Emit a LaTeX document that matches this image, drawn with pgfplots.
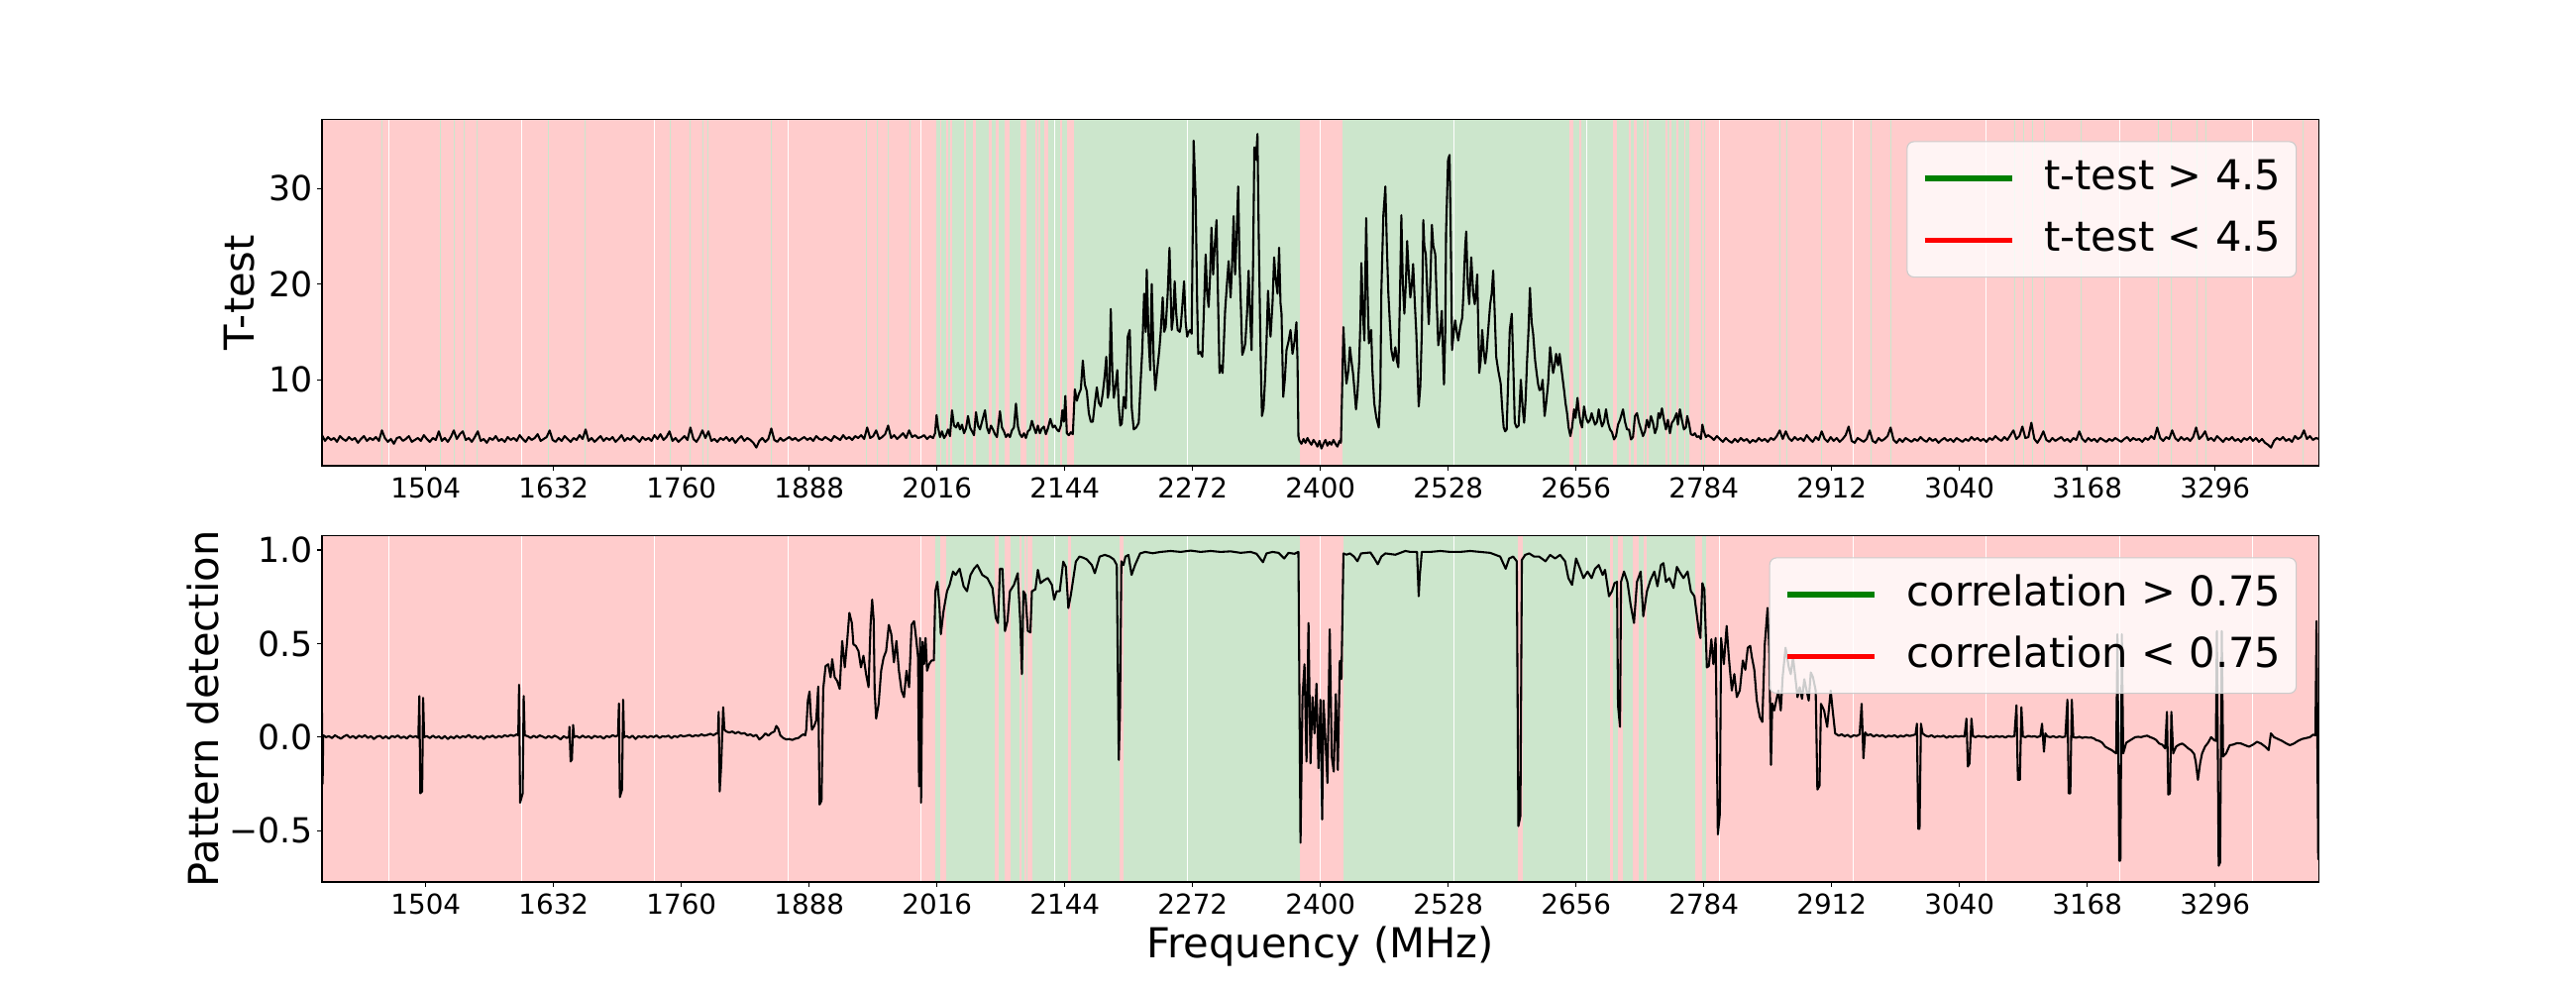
\documentclass[border=0pt]{standalone}
\usepackage{pgfplots}
\usepackage{pgfplotstable}
\pgfplotsset{compat=1.18}
\usepackage{fontspec}
\setmainfont{DejaVu Sans}
\definecolor{bandred}{RGB}{255,204,204}
\definecolor{bandgreen}{RGB}{204,230,204}
\definecolor{mplgreen}{RGB}{0,128,0}
\definecolor{mplred}{RGB}{255,0,0}

\pgfplotstableread{
x y
1400 4.2
1403 3.6
1406 4.0
1409 3.7
1412 3.9
1415 3.5
1418 4.1
1421 3.8
1424 3.6
1427 4.0
1430 3.7
1433 3.9
1436 3.4
1439 3.8
1442 4.1
1445 3.6
1448 3.9
1451 3.7
1454 4.0
1457 3.6
1460 4.7
1463 3.9
1466 3.5
1469 3.8
1472 3.3
1475 3.9
1478 4.0
1481 3.6
1484 3.8
1487 4.1
1490 3.5
1493 3.7
1496 3.9
1499 3.6
1502 4.2
1505 3.8
1508 3.5
1511 3.9
1514 3.7
1517 4.6
1520 3.6
1523 3.9
1526 3.5
1529 4.0
1532 4.7
1535 3.8
1538 4.3
1541 4.6
1544 3.7
1547 3.9
1550 3.5
1553 4.0
1556 4.6
1559 3.6
1562 3.8
1565 3.4
1568 3.9
1571 3.7
1574 4.1
1577 3.6
1580 3.8
1583 3.5
1586 4.0
1589 3.7
1592 3.9
1595 3.6
1598 4.2
1601 3.8
1604 3.5
1607 4.0
1610 3.7
1613 3.9
1616 4.3
1619 3.6
1622 3.8
1625 4.0
1628 4.7
1631 3.7
1634 3.5
1637 3.9
1640 3.6
1643 4.1
1646 3.8
1649 3.5
1652 3.9
1655 3.7
1658 4.2
1661 3.8
1664 4.8
1667 3.6
1670 3.9
1673 3.5
1676 3.8
1679 4.1
1682 3.6
1685 3.9
1688 3.7
1691 4.0
1694 3.5
1697 3.8
1700 4.2
1703 3.6
1706 3.9
1709 3.7
1712 4.1
1715 3.8
1718 3.5
1721 4.0
1724 3.7
1727 3.9
1730 3.6
1733 4.2
1736 3.8
1739 4.3
1742 3.7
1745 4.0
1748 4.6
1751 3.6
1754 3.9
1757 3.5
1760 3.8
1763 4.1
1766 3.7
1769 5.0
1772 3.8
1775 3.5
1778 4.0
1781 4.7
1784 3.9
1787 4.6
1790 3.6
1793 3.8
1796 3.5
1799 3.9
1802 3.7
1805 4.0
1808 3.6
1811 3.9
1814 3.4
1817 3.8
1820 4.1
1823 3.6
1826 3.9
1829 3.7
1832 3.4
1835 2.9
1838 3.6
1841 3.9
1844 3.5
1847 3.8
1850 4.9
1853 3.7
1856 3.5
1859 3.9
1862 3.6
1865 3.8
1868 4.0
1871 3.7
1874 3.9
1877 3.6
1880 3.8
1883 4.0
1886 3.7
1889 3.9
1892 3.6
1895 4.1
1898 3.8
1901 3.7
1904 4.0
1907 3.8
1910 3.6
1913 4.1
1916 3.9
1919 3.7
1922 4.2
1925 3.8
1928 4.0
1931 3.7
1934 4.1
1937 3.9
1940 4.2
1943 3.8
1946 5.0
1949 3.9
1952 4.1
1955 4.7
1958 3.8
1961 4.0
1964 4.3
1967 5.2
1970 3.9
1973 4.2
1976 3.8
1979 4.1
1982 4.4
1985 3.9
1988 4.7
1991 4.0
1994 4.2
1997 3.9
2000 4.0
2003 4.2
2006 3.8
2009 4.1
2012 3.9
2014 4.4
2015.5 6.3
2017 5.0
2019 4.0
2021 4.6
2023 3.9
2025 4.2
2027 4.8
2029 4.1
2031 6.8
2033 5.2
2035 5.0
2037 5.5
2039 4.8
2041 5.3
2043 4.4
2045 4.9
2047 6.2
2049 5.0
2051 4.6
2053 4.2
2055 6.6
2057 5.2
2059 4.8
2061 5.6
2064 6.8
2066 5.0
2068 4.4
2070 5.2
2072 4.8
2074 4.3
2076 4.0
2079 6.7
2081 5.0
2083 4.6
2085 4.0
2087 4.3
2089 4.0
2091 4.7
2093 5.0
2095 7.5
2097 5.1
2099 4.3
2101 4.0
2103 4.4
2105 3.9
2107 4.6
2109 4.8
2111 5.7
2113 5.0
2115 4.4
2117 5.2
2119 4.4
2121 4.9
2123 5.1
2125 4.3
2127 4.9
2129.5 5.9
2132 5.0
2134 5.2
2136 4.8
2138 4.6
2140 5.2
2141.5 6.8
2143 5.6
2144.5 8.3
2146 4.4
2148 4.2
2150 4.5
2152 4.3
2154 9.0
2156 7.8
2158 8.5
2160 9.0
2162 12.0
2164 9.5
2166 8.8
2168 6.5
2170 5.6
2172 5.6
2174 7.5
2176 9.2
2178 7.6
2180 7.2
2182 8.6
2184 10.5
2185.5 12.4
2187 8.1
2188.5 9.0
2190 17.4
2191.5 11.0
2193 8.1
2195 9.5
2196.5 11.0
2198 7.2
2199.5 5.2
2201 5.4
2203 8.2
2205 7.0
2207 14.5
2209 15.2
2211 7.0
2213 4.8
2215.5 5.0
2218 5.5
2220 10.0
2221.5 13.0
2223.4 19.0
2225 15.0
2226 21.5
2228 14.0
2229.5 11.0
2231 20.0
2233 12.0
2234.6 8.9
2236.5 11.0
2238.6 13.1
2240 15.0
2242 18.6
2243.5 15.0
2245 15.5
2247 19.0
2248.8 23.8
2250 19.0
2251 15.2
2252.5 16.5
2254 20.3
2255.5 17.0
2257 15.2
2259 15.0
2260 15.5
2261.5 17.5
2263.4 20.3
2265 16.0
2266.5 14.5
2268 15.0
2269.5 15.2
2271 14.8
2273 35.0
2275 29.0
2276.5 18.0
2277.6 12.7
2279.5 12.9
2281.7 12.4
2283.5 18.0
2285 23.1
2286.5 19.0
2288 17.6
2289.5 21.0
2290.8 25.9
2292.5 21.0
2294 23.8
2295.9 26.7
2297.5 18.0
2298.9 10.7
2300.5 11.5
2302 10.7
2303.3 14.0
2304.5 17.2
2306 19.5
2308 22.4
2310 18.6
2311.5 22.0
2313 27.1
2314.5 21.0
2316 25.0
2317.6 30.2
2319 22.0
2320.5 17.0
2321.7 12.6
2323 13.0
2324.7 13.8
2326.5 17.0
2328 21.4
2329.5 17.0
2331 13.1
2332.5 22.0
2333.8 34.3
2335.5 33.0
2336.9 35.7
2338.2 25.0
2339.4 16.9
2340.4 11.0
2341.4 6.2
2343 7.0
2344.5 10.0
2346 14.0
2347.5 19.3
2349 16.0
2350 14.5
2352 18.0
2353.6 22.8
2355 20.7
2357 19.0
2358.6 23.8
2360 18.0
2361 16.9
2362.7 8.2
2364.3 10.0
2366 13.1
2368 14.0
2370 15.2
2372 12.7
2374 14.0
2375.9 16.0
2377 12.0
2377.9 4.1
2379 3.6
2381 3.3
2383 3.8
2385 3.4
2387 3.9
2389 3.5
2391 3.2
2393 3.7
2395 3.4
2397 3.0
2399 3.6
2401 2.8
2403 3.3
2405 3.7
2407 3.1
2409 3.5
2411 3.2
2413 3.7
2415 3.3
2417 3.0
2419 3.6
2420.5 3.4
2421.5 8.0
2423 15.5
2424.5 12.0
2426 9.6
2428 11.0
2429.5 13.4
2431 12.0
2432.6 10.7
2434 9.0
2435.6 6.9
2437 8.5
2438.7 11.7
2440 16.0
2441 22.2
2442.5 17.0
2444 14.1
2445.8 26.9
2447 20.0
2448.5 13.8
2450.8 15.2
2452 11.0
2453.9 7.5
2456 6.0
2458.4 5.0
2460 9.0
2461 19.3
2463 27.2
2465 30.2
2466.5 24.0
2468 19.0
2469.5 16.0
2471 13.1
2473 12.0
2475 13.4
2476.5 12.0
2478 11.3
2479.5 18.0
2481 27.2
2482.5 20.0
2484 16.9
2485.5 20.0
2486.8 24.5
2488.5 21.0
2490 18.6
2491.5 20.0
2492.8 22.1
2494.5 18.0
2496 14.8
2497.5 10.0
2498.4 7.2
2500 9.3
2501.5 15.0
2503 26.7
2504 24.0
2505.5 23.1
2507 19.0
2508.5 15.8
2510 20.0
2511.6 26.2
2513 24.0
2515 23.1
2516.5 18.0
2518 13.6
2520 15.0
2521.5 17.2
2523.7 9.5
2525 15.0
2525.8 25.5
2527 30.0
2527.8 33.0
2529.3 33.5
2530.5 25.0
2531.8 13.1
2533.5 15.0
2534.9 16.2
2536.5 15.0
2538 14.1
2540 15.5
2542 16.5
2543.2 19.0
2544 21.4
2545 24.0
2546 25.5
2547.5 20.0
2549 17.9
2551 22.8
2553 19.0
2554.5 17.9
2556 19.5
2557 21.0
2559 10.7
2560.5 12.0
2562 15.2
2563.5 13.0
2565 11.7
2566.5 13.0
2568 15.2
2570 17.9
2571.5 19.0
2573 21.4
2574.5 17.0
2576 12.4
2578 11.0
2580.5 9.6
2582 7.0
2583.5 5.0
2585 4.6
2586.5 4.8
2588 10.0
2589.6 15.2
2591.6 16.9
2593 12.0
2594.6 5.5
2596.5 5.0
2598.5 5.2
2600.7 10.0
2602.5 7.0
2604 5.5
2605.5 8.0
2606.8 11.7
2608.3 15.0
2609.8 19.6
2611.5 16.0
2613 14.8
2615 12.0
2616.5 10.7
2618 9.5
2619.4 8.9
2621 9.0
2622.5 10.0
2624.5 6.2
2626 7.5
2628 9.6
2630 13.4
2631.5 12.0
2633 10.7
2634.5 11.5
2636 12.7
2638 11.5
2639.5 12.7
2641.5 11.0
2644 8.9
2645.5 7.5
2647 6.5
2648.5 5.0
2650.3 4.1
2652 5.0
2654 6.9
2655.5 6.0
2657.4 8.1
2659 6.5
2660.5 5.5
2662 5.0
2664 7.2
2666 6.0
2668 5.5
2670 5.8
2671.6 6.5
2673.5 5.8
2675 5.3
2677 5.6
2678.7 6.9
2680.5 5.8
2682 5.1
2684 5.6
2686 6.9
2688 5.5
2690 4.8
2692 4.5
2694 3.75
2696 4.1
2698 5.3
2700 5.8
2703 6.9
2705 5.6
2707 4.8
2709 4.8
2711 3.75
2713 4.0
2715 6.2
2717 6.5
2719 5.5
2721 4.8
2723 4.1
2725 4.6
2727 5.8
2729 5.0
2731 6.2
2733 5.5
2735 4.4
2737 5.0
2738.5 6.5
2740 6.0
2742 7.0
2744 5.8
2746 4.8
2748 5.8
2750 4.4
2752 5.5
2754 5.8
2756.7 6.5
2758 5.3
2760 6.9
2762 5.8
2764 4.8
2766 5.0
2767.3 6.2
2769 5.5
2771 4.3
2773 4.2
2775 4.4
2777 4.0
2779 4.1
2781 3.8
2782.5 5.3
2784 4.6
2786 4.0
2788 4.2
2791 4.0
2794 3.7
2797 4.1
2800 3.8
2803 3.5
2806 3.9
2809 3.6
2812 3.4
2815 3.8
2818 3.5
2821 3.9
2824 3.6
2827 3.8
2830 3.4
2833 3.7
2836 3.5
2839 3.9
2842 3.6
2845 3.8
2848 3.5
2851 3.9
2854 3.7
2857 4.1
2860 4.7
2863 3.8
2866 4.6
2869 3.9
2872 3.6
2875 4.0
2878 3.7
2881 3.9
2884 3.6
2887 4.2
2890 3.8
2893 3.5
2896 4.0
2899 3.7
2902 4.6
2905 3.8
2908 3.5
2911 4.0
2914 3.6
2917 3.9
2920 3.5
2923 3.8
2926 4.2
2929 5.1
2932 3.6
2935 3.4
2938 3.9
2941 3.7
2944 3.5
2947 3.8
2950 4.7
2953 3.6
2956 3.4
2959 3.9
2962 3.6
2965 3.8
2968 4.1
2971 5.0
2974 3.7
2977 3.4
2980 3.8
2983 3.5
2986 3.9
2989 3.7
2992 3.5
2995 3.8
2998 3.6
3001 4.0
3004 3.7
3007 3.5
3010 3.9
3013 3.6
3016 3.8
3019 3.4
3022 3.7
3025 3.9
3028 3.6
3031 3.8
3034 3.5
3037 3.9
3040 3.7
3043 3.5
3046 3.8
3049 3.6
3052 4.0
3055 3.7
3058 3.9
3061 3.6
3064 3.8
3067 3.5
3070 3.9
3073 3.7
3076 4.1
3079 3.8
3082 3.6
3085 4.0
3088 3.7
3091 4.2
3094 4.7
3097 3.8
3100 4.1
3103 5.1
3106 3.9
3109 4.0
3112 5.5
3115 3.8
3118 3.4
3121 3.9
3124 4.6
3127 3.7
3130 3.5
3133 3.9
3136 3.6
3139 3.8
3142 4.0
3145 3.6
3148 3.8
3151 3.5
3154 3.9
3157 3.7
3160 4.6
3163 3.8
3166 3.5
3169 3.9
3172 3.6
3175 3.8
3178 3.5
3181 3.9
3184 3.7
3187 3.5
3190 3.8
3193 3.6
3196 3.9
3199 3.7
3202 3.5
3205 3.8
3208 4.0
3211 3.6
3214 3.9
3217 3.7
3220 3.8
3223 3.5
3226 3.9
3229 3.7
3232 4.1
3235 3.8
3238 5.0
3241 3.9
3244 3.6
3247 4.0
3250 3.8
3253 4.7
3256 3.9
3259 3.6
3262 4.0
3265 3.7
3268 3.9
3271 3.6
3274 4.0
3277 5.0
3280 3.8
3283 4.1
3286 4.6
3289 3.7
3292 3.9
3295 3.6
3298 4.1
3301 3.8
3304 3.5
3307 3.9
3310 3.7
3313 4.0
3316 3.6
3319 3.8
3322 3.5
3325 3.9
3328 3.7
3331 4.0
3334 3.6
3337 3.9
3340 3.5
3343 3.8
3346 3.4
3349 3.2
3352 2.9
3355 3.6
3358 3.9
3361 3.7
3364 4.0
3367 3.6
3370 3.8
3373 3.5
3376 4.1
3379 3.8
3382 4.0
3385 4.7
3388 3.8
3391 4.1
3394 3.7
3397 3.9
3400 3.8
}\ttest

\pgfplotstableread{
x y
1400 0.13
1400.6 -0.25
1401.2 0.01
1404 0.0
1407 0.005
1410 -0.005
1413 0.01
1416 0.0
1419 -0.008
1422 0.004
1425 0.012
1428 -0.003
1431 0.006
1434 -0.006
1437 0.008
1440 0.0
1443 0.01
1446 -0.004
1449 0.005
1452 -0.01
1455 0.003
1458 0.007
1461 -0.006
1464 0.004
1467 -0.008
1470 0.006
1473 0.0
1476 0.009
1479 -0.005
1482 0.003
1485 -0.007
1488 0.008
1491 0.0
1494 0.005
1496.5 -0.004
1497.5 0.22
1498.5 -0.30
1500.3 -0.29
1501.3 0.21
1502.3 0.0
1505 0.006
1508 -0.005
1511 0.008
1514 -0.003
1517 0.004
1520 -0.008
1523 0.006
1526 -0.01
1529 0.003
1532 -0.006
1535 0.007
1538 -0.004
1541 0.005
1544 0.0
1547 0.012
1550 -0.003
1553 0.006
1556 -0.006
1559 0.004
1562 -0.01
1565 0.005
1568 0.0
1571 0.008
1574 -0.004
1577 0.006
1580 0.0
1583 0.01
1586 0.004
1589 0.012
1592 0.006
1595 0.015
1596.6 0.01
1597.4 0.28
1598.4 -0.35
1601 -0.30
1602 0.22
1603 0.01
1606 0.005
1609 -0.004
1612 0.007
1615 -0.002
1618 0.009
1621 0.003
1624 -0.005
1627 0.006
1630 -0.003
1633 0.008
1636 0.0
1639 -0.012
1642 0.005
1645 -0.004
1647.3 0.0
1647.8 0.055
1649 -0.13
1650.3 -0.12
1651.5 0.065
1652.5 0.0
1655 0.006
1658 -0.004
1661 0.008
1664 -0.002
1667 0.005
1670 -0.006
1673 0.007
1676 0.0
1679 0.004
1682 -0.008
1685 0.006
1688 0.0
1691 0.01
1694 0.004
1696.5 0.01
1697.4 0.18
1698.3 -0.32
1700.5 -0.28
1701.6 0.20
1702.5 0.0
1705 0.006
1708 -0.004
1711 0.008
1714 -0.01
1717 0.005
1720 0.0
1723 0.007
1726 -0.003
1729 0.006
1732 0.0
1735 0.009
1738 -0.004
1741 0.005
1744 0.002
1747 0.008
1750 -0.005
1753 0.006
1756 0.0
1759 0.01
1762 0.004
1765 0.007
1768 0.012
1771 0.003
1774 0.01
1777 0.006
1780 0.015
1783 0.008
1786 0.012
1789 0.018
1792 0.01
1795 0.02
1796.6 0.02
1797.3 0.135
1798.3 -0.29
1799.8 -0.15
1801.8 0.16
1803 0.04
1805 0.03
1808 0.025
1811 0.03
1814 0.02
1817 0.028
1820 0.018
1823 0.022
1826 0.01
1829 0.015
1832 0.005
1835 0.012
1838 -0.012
1841 0.0
1844 0.02
1847 0.008
1850 0.022
1853 0.03
1855 0.06
1857 0.045
1859 0.01
1862 -0.005
1865 -0.012
1868 -0.01
1871 -0.015
1874 -0.008
1877 -0.005
1880 0.008
1882 0.015
1884 0.01
1885 0.04
1886.6 0.196
1888.3 0.244
1889.5 0.12
1890.7 0.04
1893 0.06
1895 0.09
1897 0.27
1898.3 -0.36
1900.3 -0.34
1902 0.258
1904.4 0.38
1907 0.39
1909.4 0.32
1911 0.417
1913.5 0.32
1916 0.30
1918.5 0.258
1921 0.514
1923.6 0.373
1926 0.514
1928.2 0.664
1930.7 0.61
1932.2 0.496
1934.7 0.487
1937.3 0.46
1939.8 0.373
1942.3 0.435
1944.9 0.337
1947.4 0.267
1949.4 0.60
1951 0.735
1952.5 0.629
1953.5 0.249
1955 0.099
1957.5 0.178
1960 0.355
1962.5 0.426
1965 0.46
1967.7 0.60
1970.2 0.55
1972.8 0.40
1975.3 0.514
1977.8 0.355
1980.4 0.249
1982.9 0.214
1985.4 0.355
1988 0.267
1990.5 0.60
1993 0.62
1995 0.53
1997 0.426
1998 -0.263
1999 0.53
2000 -0.35
2001.5 0.51
2003 0.39
2004.5 0.53
2006 0.355
2008 0.39
2010.5 0.41
2012.8 0.41
2014.3 0.78
2016.3 0.83
2018.3 0.71
2019.8 0.55
2022.5 0.674
2026 0.78
2028.6 0.814
2032 0.885
2034.6 0.867
2038.6 0.90
2042.6 0.806
2046 0.78
2049.5 0.867
2053 0.90
2056.3 0.92
2061.3 0.867
2066.4 0.85
2071.5 0.797
2074.8 0.638
2077 0.61
2079 0.90
2081.5 0.90
2084 0.567
2086.5 0.62
2089 0.78
2093 0.814
2096.8 0.876
2099.3 0.62
2101 0.337
2102.5 0.78
2104.5 0.76
2107 0.567
2109.5 0.56
2111 0.78
2114.5 0.79
2117 0.894
2119.6 0.823
2123.6 0.84
2127 0.85
2131 0.814
2133.3 0.735
2135.8 0.78
2138.9 0.78
2142.4 0.938
2145 0.91
2147.5 0.69
2150 0.76
2155 0.938
2158.6 0.965
2162 0.96
2166 0.95
2171 0.92
2174 0.876
2178.9 0.965
2184 0.974
2189 0.965
2193 0.95
2196 0.92
2198 -0.122
2199.2 0.125
2200.6 0.94
2202.7 0.92
2204.7 0.965
2207.7 0.974
2210.8 0.867
2214.3 0.92
2219.4 0.982
2224.4 0.99
2232 0.983
2240 0.99
2250 0.995
2260 0.99
2270 0.997
2280 0.99
2290 0.995
2300 0.99
2310 0.993
2320 0.985
2330 0.99
2336 0.98
2342.4 0.935
2346 0.982
2352 0.99
2358 0.985
2363.7 0.955
2368 0.985
2374 0.98
2377.9 0.99
2380 -0.564
2382 0.214
2384 0.39
2386 -0.13
2388 0.61
2390 -0.14
2392 0.214
2394 0.02
2396 0.285
2398 -0.166
2400 0.20
2401.7 -0.44
2403 0.196
2405 -0.016
2407 -0.245
2409.3 0.576
2411.3 -0.104
2413.3 -0.184
2415.4 0.23
2417.4 -0.175
2419.4 0.408
2421 0.311
2423 0.982
2426 0.975
2429.5 0.982
2433.6 0.965
2437 0.94
2440.7 0.982
2450 0.987
2454 0.955
2457.4 0.924
2461 0.965
2465 0.982
2475 0.975
2485 0.995
2490 0.99
2496.7 0.99
2498.4 0.753
2499.4 0.86
2501.5 0.99
2510 0.99
2520 0.995
2530 0.99
2540 0.99
2550 0.995
2560 0.99
2570 0.985
2580 0.965
2585.5 0.90
2589 0.955
2593 0.965
2596.6 0.94
2598.2 -0.475
2600.2 -0.422
2601.7 0.947
2605 0.974
2609 0.982
2614 0.965
2619 0.965
2625.4 0.94
2630 0.974
2635 0.955
2640 0.974
2645 0.94
2648.3 0.85
2652 0.814
2656 0.955
2660 0.90
2663.4 0.85
2667.5 0.885
2671.6 0.85
2675 0.90
2678.7 0.92
2682.6 0.867
2685 0.894
2689 0.753
2692 0.78
2694.5 0.823
2697 0.83
2698 0.17
2700 0.055
2701 0.83
2704 0.885
2707.4 0.83
2710.6 0.709
2714 0.61
2717 0.83
2720.7 0.885
2723.3 0.646
2727 0.78
2730.5 0.84
2734.4 0.885
2737.5 0.806
2741 0.92
2743.5 0.93
2746 0.83
2749.5 0.85
2753.6 0.797
2757 0.91
2759.5 0.885
2763.6 0.85
2767.7 0.885
2771 0.78
2774.5 0.753
2777 0.65
2779 0.567
2780.5 0.53
2782.5 0.823
2784.5 0.79
2787 0.373
2789 0.38
2791.5 0.523
2793.5 0.39
2795.8 0.53
2798 -0.52
2800 -0.41
2801.2 0.53
2804 0.39
2806.8 0.594
2809 0.426
2812 0.249
2814.5 0.337
2817 0.214
2820 0.25
2823 0.41
2825.5 0.36
2828 0.478
2830.4 0.488
2832 0.43
2834.5 0.36
2837 0.196
2840 0.108
2842.5 0.081
2845 0.496
2847.8 0.691
2849.5 0.46
2851.2 -0.148
2852.5 0.18
2854.5 0.143
2856.5 0.196
2858.7 0.249
2861 0.143
2863 0.328
2865.8 0.478
2869 0.375
2871 0.337
2873.3 0.426
2875.6 0.32
2877.8 0.214
2880 0.267
2882.3 0.205
2884.6 0.31
2886.9 0.249
2889 0.196
2891.1 0.346
2893.3 0.32
2896 0.249
2897.7 -0.28
2899.8 -0.26
2901.3 0.178
2904.4 0.143
2907.5 0.055
2911 0.249
2913 0.143
2915.5 0.02
2919 0.008
2922 0.015
2925 0.005
2928 0.012
2931 0.0
2934 0.01
2937 0.006
2940 0.015
2942 0.178
2943.8 -0.113
2945.5 0.025
2948 0.01
2951 0.015
2954 0.003
2957 0.012
2960 0.005
2963 0.01
2966 0.0
2969 0.008
2972 0.004
2975 0.01
2978 0.0
2981 0.008
2984 0.003
2987 0.012
2990 0.006
2993 0.01
2996 0.015
2997.4 0.072
2998.7 -0.49
3000 -0.49
3001.4 0.072
3003 0.02
3006 0.008
3009 0.003
3012 0.01
3015 0.0
3018 0.006
3021 0.002
3024 0.008
3027 -0.003
3030 0.005
3033 0.0
3036 0.007
3039 0.002
3042 0.006
3045 0.003
3047 0.099
3048.4 -0.157
3050 -0.14
3052 0.099
3053.5 0.005
3056 0.0
3059 0.007
3062 0.002
3065 0.006
3068 -0.003
3071 0.004
3074 0.0
3077 0.006
3080 0.001
3083 0.005
3086 -0.002
3089 0.006
3092 0.002
3095 0.005
3097.1 0.17
3098.5 -0.228
3100.5 -0.228
3102 0.16
3103.5 0.004
3106 0.0
3109 0.007
3112 0.002
3115 0.005
3118 0.0
3121 0.006
3122.7 0.072
3124.6 -0.078
3126 0.02
3128 0.004
3131 0.0
3134 0.005
3137 -0.002
3140 0.004
3143 0.0
3146 0.003
3148.1 0.20
3149.4 -0.30
3151 -0.30
3152.5 0.20
3154 0.0
3157 -0.003
3160 0.002
3163 -0.004
3166 0.0
3169 -0.003
3172 -0.002
3175 -0.008
3177 -0.016
3180 -0.02
3183 -0.03
3186 -0.051
3189 -0.06
3192.4 -0.069
3195 -0.08
3197 -0.087
3198.2 0.55
3200 -0.66
3201.2 -0.66
3202.6 0.55
3204 -0.087
3207 -0.03
3210 -0.02
3213 -0.01
3216 0.0
3219 0.002
3222 0.0
3225 0.005
3228 0.008
3231 0.0
3234 -0.006
3237 -0.015
3240 -0.034
3243 -0.04
3246 -0.06
3247.8 0.135
3249.1 -0.307
3250.8 -0.30
3252.2 0.135
3254 -0.087
3257 -0.05
3260 -0.04
3263 -0.034
3266 -0.045
3269 -0.06
3272 -0.07
3275 -0.09
3276.6 -0.13
3278.8 -0.228
3281 -0.14
3283 -0.087
3286 -0.05
3289 -0.03
3292 0.0
3295 -0.016
3296.8 -0.02
3297.8 0.567
3299.6 -0.687
3301 -0.67
3302.7 0.567
3304 -0.104
3307 -0.087
3310.7 -0.043
3314 -0.04
3318 -0.032
3322 -0.034
3326 -0.043
3330 -0.051
3334 -0.04
3338 -0.025
3342 -0.034
3346 -0.05
3349.7 -0.069
3351.9 0.02
3355 0.0
3359 -0.01
3363 -0.02
3367.4 -0.034
3371 -0.043
3375 -0.034
3379 -0.02
3383 -0.01
3387 -0.005
3391 0.0
3394 0.013
3396.5 0.01
3397.6 0.62
3399.3 -0.652
3400 -0.652
}\tcorr

\def\ylo{0}\def\yhi{40}
\newcommand{\gband}[2]{\addplot[draw=none, fill=bandgreen, forget plot] coordinates {(#1,\ylo) (#1,\yhi) (#2,\yhi) (#2,\ylo)} -- cycle;}
\newcommand{\gline}[1]{\addplot[draw=none, fill=bandgreen, forget plot] coordinates {(#1-0.4,\ylo) (#1-0.4,\yhi) (#1+0.4,\yhi) (#1+0.4,\ylo)} -- cycle;}
\newcommand{\whitelines}{%
\pgfplotsinvokeforeach{1466.67,1600,1733.33,1866.67,2000,2133.33,2266.67,2400,2533.33,2666.67,2800,2933.33,3066.67,3200,3333.33}{%
\addplot[white, line width=0.7pt, forget plot] coordinates {(##1,\ylo) (##1,\yhi)};}}

\pgfplotsset{
  panel/.style={
    scale only axis, width=1451.2pt, height=251.5pt,
    xmin=1400, xmax=3400,
    axis on top,
    axis background/.style={fill=bandred},
    axis line style={line width=0.8pt, black},
    tick align=outside, tick pos=left, major tick length=3.5pt,
    tick style={line width=0.8pt, black},
    xtick={1504,1632,1760,1888,2016,2144,2272,2400,2528,2656,2784,2912,3040,3168,3296},
    xticklabels={1504,1632,1760,1888,2016,2144,2272,2400,2528,2656,2784,2912,3040,3168,3296},
    xticklabel style={font=\fontsize{20}{24}\selectfont, inner sep=0pt, anchor=north, yshift=-5.1pt},
    yticklabel style={font=\fontsize{25}{30}\selectfont, inner sep=0pt, anchor=east, xshift=-3pt},
    label style={font=\fontsize{30}{36}\selectfont},
    legend cell align=left,
    legend style={at={(1,1)}, anchor=north east, xshift=-16.1pt, yshift=-15.6pt,
      draw=black!20, line width=0.8pt, fill=white, fill opacity=0.8, draw opacity=1, text opacity=1,
      rounded corners=5pt, inner xsep=11pt, inner ysep=12.8pt, row sep=17pt, column sep=21.5pt,
      font=\fontsize{30}{36}\selectfont,
      nodes={inner sep=0pt, text height=22pt, text depth=5.9pt}},
    legend image code/.code={\draw[##1, line width=3.8pt] (0pt,0pt) -- (63.4pt,0pt);},
  }
}

\begin{document}
\begin{tikzpicture}
\path[use as bounding box] (0pt,0pt) rectangle (1872pt,720pt);
\def\ylo{0}\def\yhi{40}
\begin{axis}[panel, at={(234pt,381.6pt)}, anchor=south west,
  ymin=1.0, ymax=37.2, ytick={10,20,30}, yticklabels={10,20,30},
  ylabel={T-test}, ylabel style={at={(axis description cs:-0.0339,0.5)}, anchor=base}]
\gline{1400.4}
\gline{1460.2}\gline{1518.5}\gline{1532.7}\gline{1542.3}\gline{1555.4}\gline{1626.9}
\gline{1663.3}\gline{1748.4}\gline{1768.1}\gline{1781.8}\gline{1786.4}\gline{1849.7}
\gline{1944.9}\gline{1956.5}\gline{1966.7}\gline{1988.5}
\gband{2015.4}{2019.4}
\gband{2020.3}{2025.3}
\gband{2027}{2029.6}
\gband{2031.3}{2042.8}
\gband{2045.2}{2051.8}
\gband{2055.1}{2068.3}
\gband{2070.6}{2074.9}
\gband{2078.2}{2083.2}
\gband{2088.2}{2099.1}
\gband{2105.7}{2114.6}
\gband{2116.3}{2117.9}
\gband{2119.6}{2123.6}
\gband{2126.9}{2138.8}
\gband{2141.1}{2146.1}
\gband{2152.7}{2378.9}
\gband{2422}{2649.6}
\gband{2653}{2659.6}
\gband{2661.3}{2693.3}
\gband{2697.3}{2709.2}
\gband{2711.2}{2713.5}
\gband{2716.8}{2723.4}
\gband{2725.1}{2726.7}
\gband{2728.4}{2746}
\gband{2747.6}{2750}
\gband{2751.6}{2756.6}
\gband{2758.2}{2764.1}
\gband{2765.5}{2769.7}
\gline{2782}\gline{2784.6}\gline{2860}\gline{2866.7}\gline{2902.2}\gline{2950.9}
\gline{2970.9}\gline{3094.9}\gline{3103.8}\gline{3112.6}\gline{3124.6}\gline{3161.4}
\gline{3238.9}\gline{3252.2}\gline{3277.9}\gline{3286.7}\gline{3384.2}
\whitelines
\addplot[black, line width=1.5pt, line join=round, forget plot] table[x=x, y=y] {\ttest};
\addlegendimage{mplgreen}
\addlegendentry{t-test > 4.5}
\addlegendimage{mplred}
\addlegendentry{t-test < 4.5}
\end{axis}
\def\ylo{-1}\def\yhi{1.2}
\begin{axis}[panel, at={(234pt,79.2pt)}, anchor=south west,
  ymin=-0.774, ymax=1.076, ytick={-0.5,0,0.5,1}, yticklabels={−0.5,0.0,0.5,1.0},
  ylabel={Pattern detection}, ylabel style={at={(axis description cs:-0.0521,0.5)}, anchor=base},
  xlabel={Frequency (MHz)}, xlabel style={at={(axis description cs:0.5,0)}, anchor=base, yshift=-55.4pt}]
\gband{2014.4}{2018.7}
\gband{2025.3}{2073.9}
\gband{2078.2}{2083.2}
\gband{2089.2}{2098.4}
\gband{2100.4}{2103.1}
\gband{2105.7}{2106.4}
\gband{2111.3}{2147}
\gband{2150.4}{2198.4}
\gband{2203}{2378.9}
\gband{2422.9}{2597.9}
\gband{2603}{2690.3}
\gband{2693}{2698}
\gband{2703}{2713}
\gband{2718.6}{2723.4}
\gband{2726.7}{2775.8}
\gband{2781.8}{2786.6}
\whitelines
\addplot[black, line width=1.5pt, line join=round, forget plot] table[x=x, y=y] {\tcorr};
\addlegendimage{mplgreen}
\addlegendentry{correlation > 0.75}
\addlegendimage{mplred}
\addlegendentry{correlation < 0.75}
\end{axis}
\end{tikzpicture}
\end{document}
